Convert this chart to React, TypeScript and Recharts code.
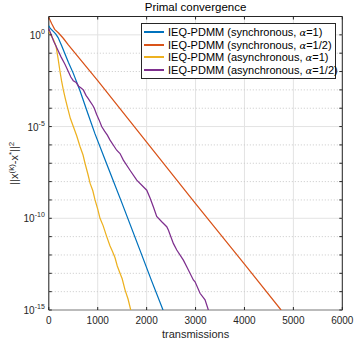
import {
  Legend,
  Line,
  LineChart,
  ReferenceArea,
  ReferenceLine,
  XAxis,
  YAxis,
  CartesianGrid,
} from "recharts";

// transmissions (x) and log10 of the error (y)
const syncFullT = [0, 30, 86, 140, 190, 263, 400, 501, 638, 800, 945, 1200, 1500, 1865, 2100, 2335];
const syncFullLog = [0.5, 0.35, 0.2, 0.05, -0.15, -0.6, -1.5, -2.1, -3.05, -4.3, -5.4, -7.15, -9.2, -11.75, -13.4, -15];

const syncHalfT = [0, 60, 120, 200, 300, 399, 1000, 2000, 3000, 4000, 4748];
const syncHalfLog = [0.95, 0.6, 0.3, 0.1, -0.2, -0.55, -2.5, -5.85, -9.2, -12.5, -15];

const asyncFullT = [
  0, 30, 60, 100, 147, 190, 229, 260, 297, 340, 386, 440, 501, 570, 640, 700, 740, 800, 845, 900, 945,
  1000, 1047, 1110, 1184, 1250, 1300, 1354, 1400, 1456, 1500, 1558, 1620, 1675,
];
const asyncFullLog = [
  0.2, 0.05, -0.1, -0.3, -0.6, -1.3, -2.0, -2.5, -3.0, -3.5, -4.0, -4.55, -5.0, -5.5, -6.1, -6.55, -7.0,
  -7.6, -8.1, -8.5, -9.0, -9.5, -10.0, -10.4, -11.0, -11.5, -11.8, -12.15, -12.6, -13.0, -13.3, -13.9,
  -14.4, -15,
];

const asyncHalfT = [
  0, 50, 100, 170, 250, 330, 399, 450, 500, 560, 610, 660, 706, 760, 800, 850, 900, 930, 980, 1030, 1081,
  1140, 1197, 1252, 1388, 1456, 1524, 1660, 1798, 2002, 2070, 2137, 2206, 2309, 2411, 2444, 2546, 2616,
  2751, 2820, 2955, 2990, 3092, 3194, 3262,
];
const asyncHalfLog = [
  0.34, 0.0, -0.35, -0.75, -1.2, -1.6, -2.0, -2.3, -2.5, -2.6, -2.8, -2.9, -3.0, -3.3, -3.45, -3.65, -3.85,
  -4.0, -4.35, -4.65, -5.0, -5.25, -5.47, -5.74, -6.29, -6.47, -6.83, -7.38, -7.92, -8.47, -8.9, -9.37,
  -9.9, -10.19, -10.46, -10.64, -11.37, -11.73, -12.28, -12.64, -13.36, -13.46, -14.09, -14.45, -15,
];

const seriesNames = [
  ["IEQ-PDMM (synchronous, ", "=1)"],
  ["IEQ-PDMM (synchronous, ", "=1/2)"],
  ["IEQ-PDMM (asynchronous, ", "=1)"],
  ["IEQ-PDMM (asynchronous, ", "=1/2)"],
];
const seriesColors = ["#0072BD", "#D95319", "#EDB120", "#7E2F8E"];

const xTicks = [0, 1000, 2000, 3000, 4000, 5000, 6000];
const decades = [-15, -14, -13, -12, -11, -10, -9, -8, -7, -6, -5, -4, -3, -2, -1, 0];

const FONT = '"Liberation Sans", Arial, Helvetica, sans-serif';
const W = 357;
const H = 342;
const PLOT = { left: 48.8, right: 342.3, top: 16.5, bottom: 310 };

const toPoints = (t: number[], lg: number[]) => t.map((x, i) => ({ t: x, y: Math.pow(10, lg[i]) }));

const series = [
  toPoints(syncFullT, syncFullLog),
  toPoints(syncHalfT, syncHalfLog),
  toPoints(asyncFullT, asyncFullLog),
  toPoints(asyncHalfT, asyncHalfLog),
];

const XTick = ({ x, payload }: any) => (
  <g>
    <line x1={x} x2={x} y1={PLOT.bottom} y2={PLOT.bottom - 3} stroke="#262626" />
    <line x1={x} x2={x} y1={PLOT.top} y2={PLOT.top + 3} stroke="#262626" />
    <text x={x} y={324} textAnchor="middle" fontSize={10} fontFamily={FONT} fill="#262626">
      {payload.value}
    </text>
  </g>
);

const YTick = ({ y, payload }: any) => {
  const e = Math.round(Math.log10(payload.value));
  return (
    <g>
      <line x1={PLOT.left} x2={PLOT.left + 3} y1={y} y2={y} stroke="#262626" />
      <line x1={PLOT.right} x2={PLOT.right - 3} y1={y} y2={y} stroke="#262626" />
      {e % 5 === 0 && (
        <text x={PLOT.left - 4} y={y + 4} textAnchor="end" fontSize={10} fontFamily={FONT} fill="#262626">
          <tspan>10</tspan>
          <tspan dy={-5} fontSize={7}>
            {e}
          </tspan>
        </text>
      )}
    </g>
  );
};

const LegendBox = () => (
  <div
    style={{
      boxSizing: "border-box",
      width: 195,
      height: 56,
      border: "1px solid #262626",
      background: "#fff",
      padding: "1px 2px",
      fontFamily: FONT,
      fontSize: 11,
      color: "#000",
      display: "flex",
      flexDirection: "column",
      justifyContent: "center",
      alignItems: "flex-start",
      textAlign: "left",
    }}
  >
    {seriesNames.map((n, i) => (
      <div key={i} style={{ display: "flex", alignItems: "center", height: 12.9, whiteSpace: "nowrap" }}>
        <span style={{ display: "inline-block", width: 20, height: 2, background: seriesColors[i], marginRight: 4 }} />
        <span>
          {n[0]}
          <span style={{ fontFamily: "'DejaVu Serif', serif", fontStyle: "italic", fontSize: 10 }}>α</span>
          {n[1]}
        </span>
      </div>
    ))}
  </div>
);

export default function App() {
  return (
    <div style={{ position: "absolute", left: 0, top: 0, width: W, height: H, background: "#fff" }}>
      <LineChart
        width={W}
        height={H}
        margin={{ top: PLOT.top, right: W - PLOT.right, bottom: 0, left: 0 }}
      >
        <CartesianGrid horizontal={false} stroke="#e3e3e3" strokeWidth={1} />
        {decades.map((e) => (
          <ReferenceLine
            key={e}
            y={Math.pow(10, e)}
            stroke={e % 5 === 0 ? "#e3e3e3" : "#c8c8c8"}
            strokeDasharray={e % 5 === 0 ? undefined : "1 2"}
          />
        ))}
        <XAxis
          dataKey="t"
          type="number"
          domain={[0, 6000]}
          ticks={xTicks}
          height={H - PLOT.bottom}
          tickLine={false}
          axisLine={false}
          tick={<XTick />}
          interval={0}
        />
        <YAxis
          type="number"
          scale="log"
          domain={[1e-15, 10]}
          allowDataOverflow
          ticks={decades.map((e) => Math.pow(10, e))}
          width={PLOT.left}
          tickLine={false}
          axisLine={false}
          tick={<YTick />}
          interval={0}
        />
        {series.map((d, i) => (
          <Line
            key={i}
            data={d}
            dataKey="y"
            type="linear"
            stroke={seriesColors[i]}
            strokeWidth={1.25}
            dot={false}
            isAnimationActive={false}
          />
        ))}
        <ReferenceArea x1={0} x2={6000} y1={1e-15} y2={10} fill="none" stroke="#262626" strokeWidth={1} />
        <Legend
          layout="vertical"
          align="center"
          verticalAlign="middle"
          content={<LegendBox />}
          wrapperStyle={{ left: 141, top: 23, width: 195, height: 56 }}
        />
        <text x={(PLOT.left + PLOT.right) / 2} y={10.5} textAnchor="middle" fontSize={11.5} fontFamily={FONT} fill="#000">
          Primal convergence
        </text>
        <text x={(PLOT.left + PLOT.right) / 2} y={337.5} textAnchor="middle" fontSize={11} fontFamily={FONT} fill="#262626">
          transmissions
        </text>
        <text
          transform={`translate(18, ${(PLOT.top + PLOT.bottom) / 2}) rotate(-90)`}
          textAnchor="middle"
          fontSize={11}
          fontFamily={FONT}
          fill="#262626"
        >
          <tspan>||x</tspan>
          <tspan dy={-4} fontSize={8}>(k)</tspan>
          <tspan dy={4}>-x</tspan>
          <tspan dy={-4} fontSize={8}>*</tspan>
          <tspan dy={4}>||</tspan>
          <tspan dy={-4} fontSize={8}>2</tspan>
        </text>
      </LineChart>
    </div>
  );
}
